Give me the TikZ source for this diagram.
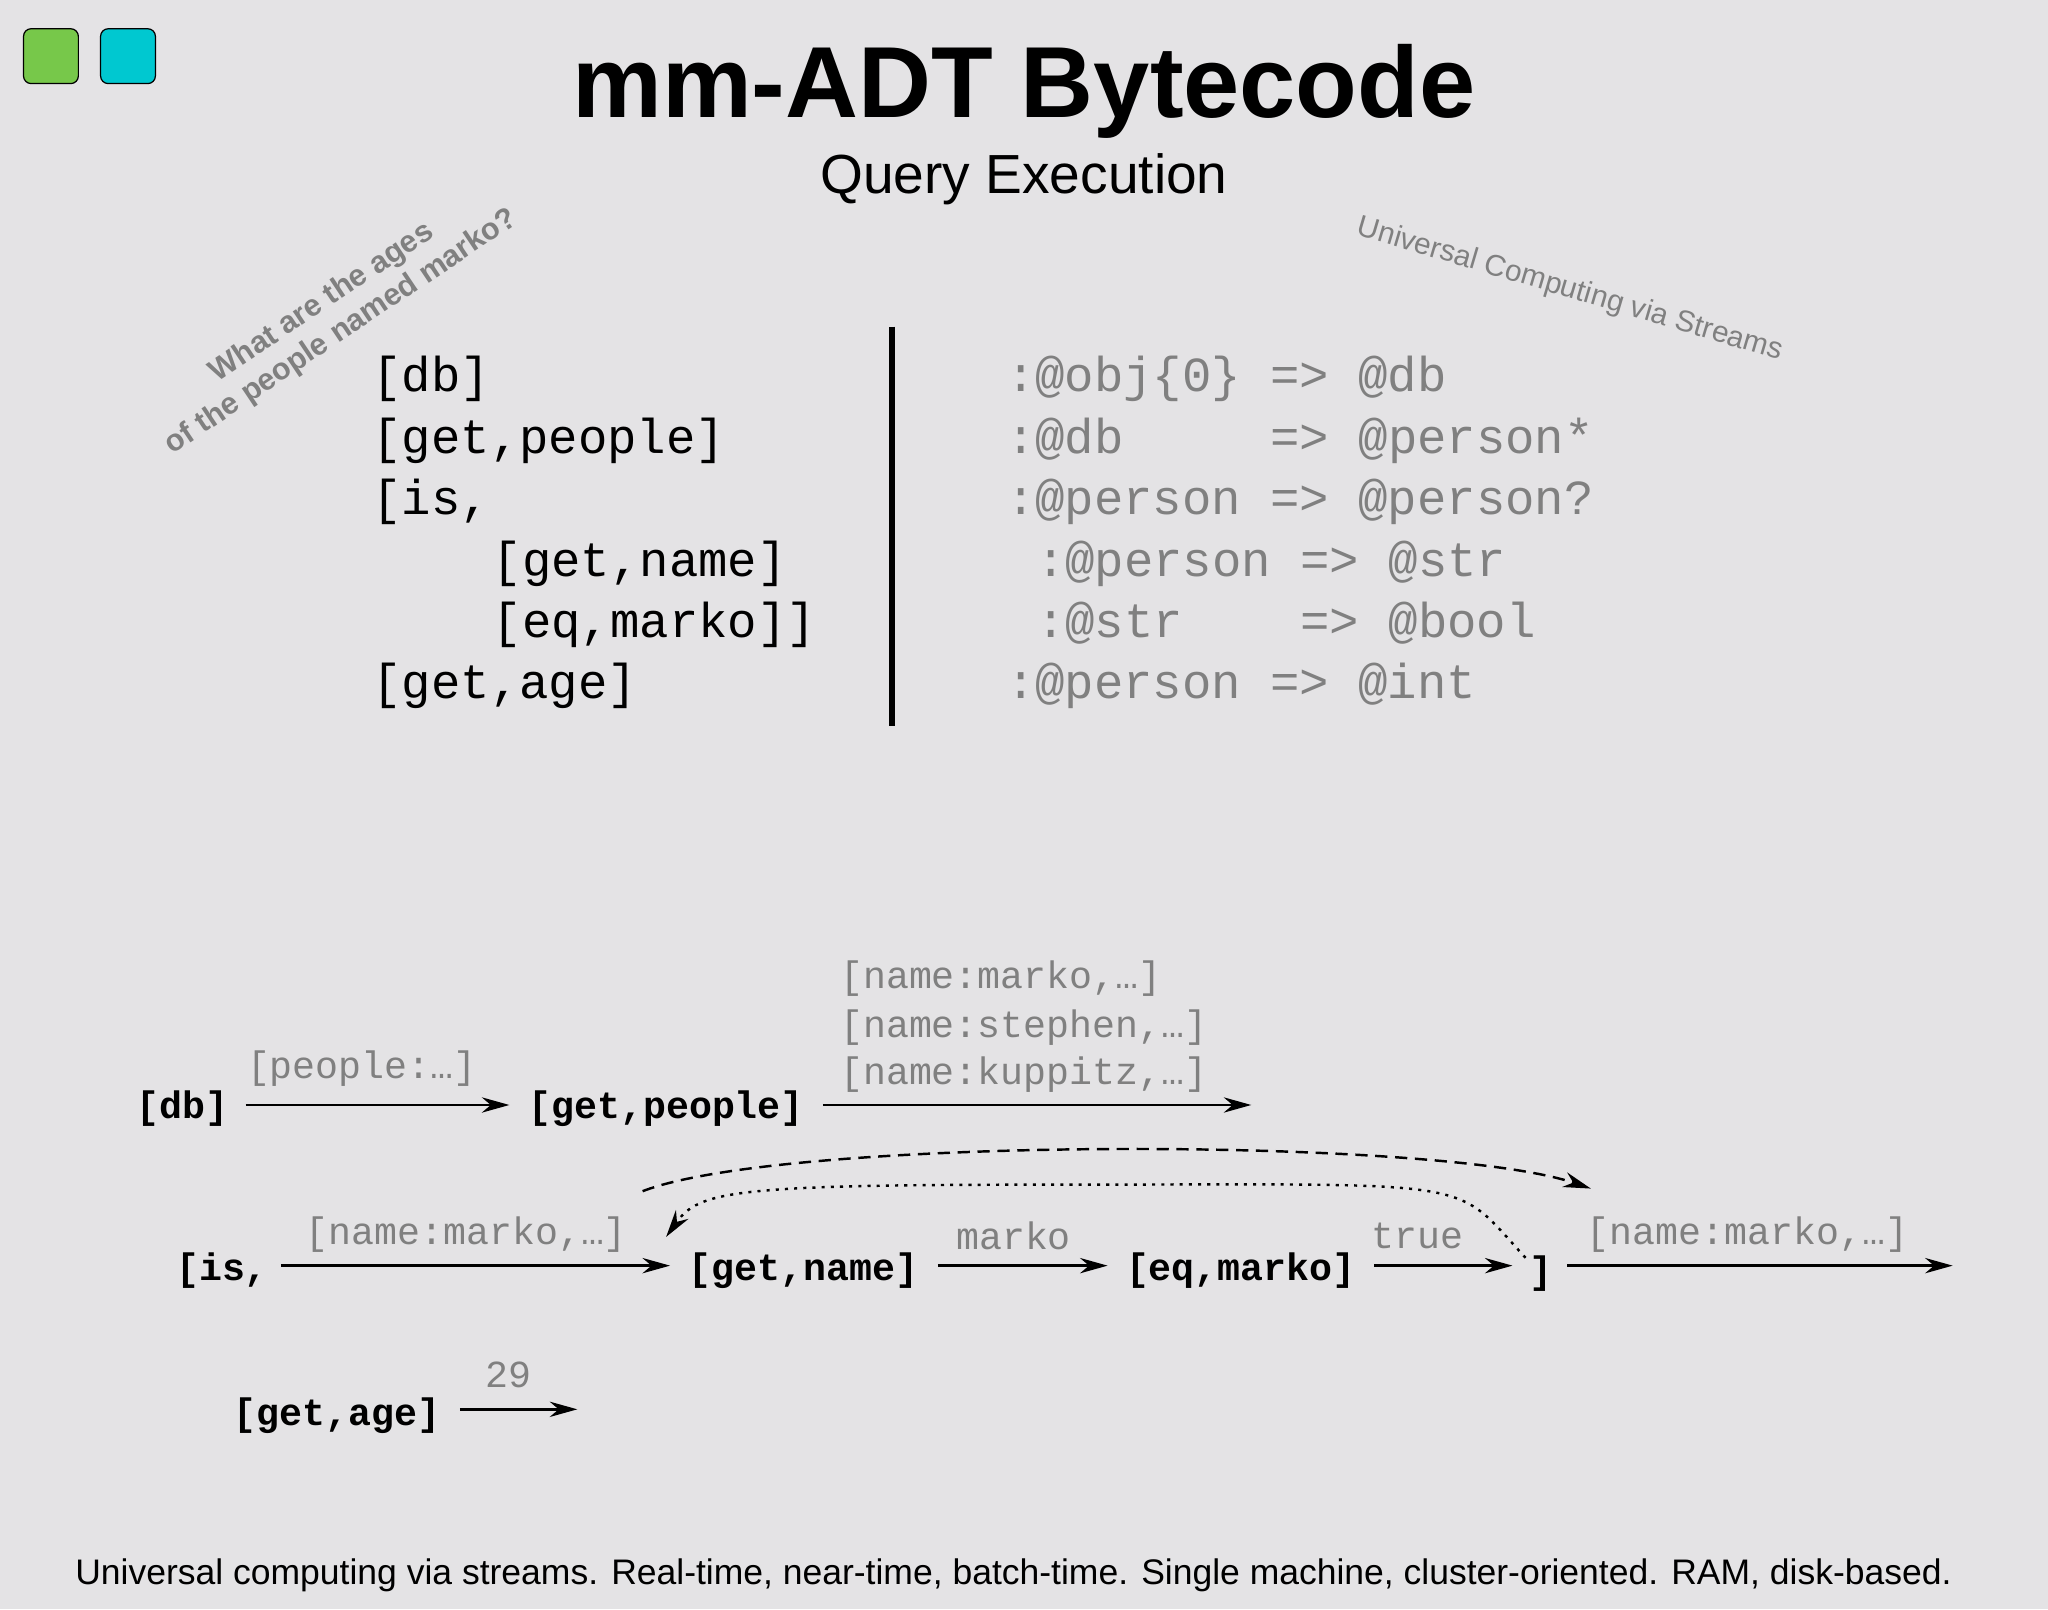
\documentclass[tikz,border=0pt]{standalone}
\usepackage{fontspec}
\setmainfont{Liberation Sans}
\newfontfamily\codefont{Liberation Mono}
\usetikzlibrary{arrows.meta}
\definecolor{bg}{HTML}{E4E3E5}
\definecolor{gr}{HTML}{808080}
\tikzset{
 code/.style={font=\codefont\fontsize{32}{32}\selectfont, anchor=base west, inner sep=0},
 gcode/.style={code, text=gr},
 op/.style={font=\codefont\bfseries\fontsize{25}{25}\selectfont, inner sep=0},
 lab/.style={font=\codefont\fontsize{25}{25}\selectfont, text=gr, inner sep=0},
 arr/.style={-{Stealth[length=18pt,width=10pt]}, line width=1.6pt},
}
\begin{document}
\begin{tikzpicture}[x=0.03cm,y=-0.03cm]
\fill[bg] (0,0) rectangle (1568,1232);
\useasboundingbox (0,0) rectangle (1568,1232);
\draw[fill={rgb,255:red,119;green,200;blue,74}, rounded corners=5pt, line width=0.8pt] (18,22) rectangle (60,64);
\draw[fill={rgb,255:red,0;green,200;blue,208}, rounded corners=5pt, line width=0.8pt] (77,22) rectangle (119,64);
\node (title) at (784,70) {\fontsize{66}{66}\selectfont\bfseries mm-ADT Bytecode};
\node (sub) at (784,137) {\fontsize{36}{36}\selectfont Query Execution};
\node[rotate=33.8, text=gr, align=center, font=\bfseries\fontsize{20}{23}\selectfont] (q) at (254,243) {What are the ages\\of the people named marko?};
\node[rotate=-16.5, text=gr, font=\fontsize{19.5}{19.5}\selectfont] (u) at (1202,222) {Universal Computing via Streams};
% left code
\node[code] (c1) at (285,300) {[db]};
\node[code] (c2) at (285,347) {[get,people]};
\node[code] (c3) at (285,394) {[is,};
\node[code] (c4) at (377,441) {[get,name]};
\node[code] (c5) at (377,488) {[eq,marko]]};
\node[code] (c6) at (285,535) {[get,age]};
\coordinate (vt) at (683,250); \coordinate (vb) at (683,556);
\draw[line width=3.5pt] (vt) -- (vb);
% right code
\node[gcode] (r1) at (770,300) {:@obj\{0\}~=>~@db};
\node[gcode] (r2) at (770,347) {:@db~~~~~=>~@person*};
\node[gcode] (r3) at (770,394) {:@person~=>~@person?};
\node[gcode] (r4) at (793,441) {:@person~=>~@str};
\node[gcode] (r5) at (793,488) {:@str~~~~=>~@bool};
\node[gcode] (r6) at (770,535) {:@person~=>~@int};
% bottom flow
\node[op] (db) at (140,849) {[db]};
\node[op] (gp) at (510,849) {[get,people]};
\coordinate (gpe) at (958,846);
\draw[arr] (188,846) coordinate (dbo) -- (390,846) coordinate (gpi);
\draw[arr] (630,846) -- (gpe);
\node[lab] (l1) at (277,818) {[people:…]};
\node[lab, anchor=base west] (l2) at (643,757) {[name:marko,…]};
\node[lab, anchor=base west] (l3) at (643,794) {[name:stephen,…]};
\node[lab, anchor=base west] (l4) at (643,830) {[name:kuppitz,…]};
\node[op] (is) at (170,973) {[is,};
\node[op] (gn) at (615,973) {[get,name]};
\node[op] (eq) at (950,973) {[eq,marko]};
\node[op] (br) at (1180,975) {]};
\draw[arr] (215,969) -- (513,969);
\draw[arr] (718,969) -- (848,969);
\draw[arr] (1052,969) -- (1158,969);
\draw[arr] (1200,969) -- (1495,969);
\node[lab] (l5) at (357,945) {[name:marko,…]};
\node[lab] (l6) at (776,946) {marko};
\node[lab] (l7) at (1085,946) {true};
\node[lab] (l8) at (1338,945) {[name:marko,…]};
\coordinate (ds) at (492,912); \coordinate (de) at (1218,910);
\draw[arr, dash pattern=on 8pt off 5pt] (ds) .. controls (600,870) and (1100,870) .. (de);
\coordinate (ts) at (1168,963); \coordinate (te) at (510,947);
\draw[arr, dash pattern=on 2pt off 4pt] (ts) .. controls (1110,900) and (1140,907) .. (800,907) .. controls (560,907) and (535,912) .. (te);
\node[op] (ga) at (258,1084) {[get,age]};
\draw[arr] (352,1079) -- (442,1079);
\node[lab] (l9) at (389,1053) {29};
\node (foot) at (776,1206) {\fontsize{23.2}{24}\selectfont Universal computing via streams. Real-time, near-time, batch-time. Single machine, cluster-oriented. RAM, disk-based.};
\end{tikzpicture}
\end{document}
